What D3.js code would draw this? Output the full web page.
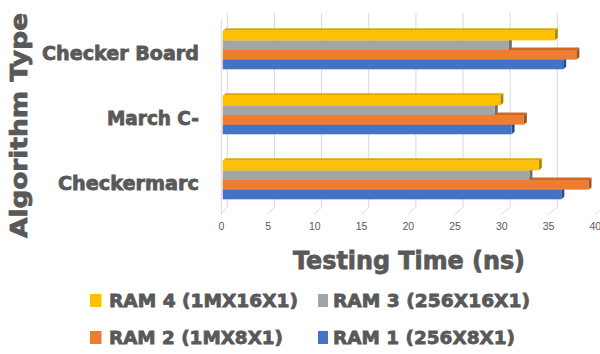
<!DOCTYPE html>
<html>
<head>
<meta charset="utf-8">
<script src="https://cdn.jsdelivr.net/npm/d3@7/dist/d3.min.js"></script>
<style>
  html, body { margin: 0; padding: 0; background: #fff; }
  svg { display: block; }
</style>
</head>
<body>
<svg id="chart" width="600" height="354"></svg>
<script>
// Algorithms, top to bottom
const categories = ["Checker Board", "March C-", "Checkermarc"];
// Series, top to bottom inside each cluster
const seriesNames = ["RAM 4 (1MX16X1)", "RAM 3 (256X16X1)", "RAM 2 (1MX8X1)", "RAM 1 (256X8X1)"];
// Testing time (ns) per algorithm, same order as categories
const ram4 = [35.4, 29.6, 33.7];
const ram3 = [30.5, 29.0, 32.7];
const ram2 = [37.7, 32.1, 39.0];
const ram1 = [36.3, 30.8, 36.1];
const tickValues = [0, 5, 10, 15, 20, 25, 30, 35, 40];

const seriesValues = [ram4, ram3, ram2, ram1];
const faceColors = ["#FFC000", "#A5A5A5", "#ED7D31", "#4472C4"];
const topColors  = ["#DDA800", "#8E8E8E", "#CF6824", "#3A62AB"];
const sideColors = ["#B08500", "#6E6E6E", "#A4521C", "#2C4C88"];
const textColor = "#595959";

const svg = d3.select("#chart");
svg.append("rect").attr("width", 600).attr("height", 354).attr("fill", "#fff");

// Three x scales: back wall, bars (mid depth), front floor edge
const xBack  = d3.scaleLinear().domain([0, 40]).range([227.3, 227.3 + 40 * 9.43]);
const xBar   = d3.scaleLinear().domain([0, 40]).range([222.7, 222.7 + 40 * 9.38]);
const xFront = d3.scaleLinear().domain([0, 40]).range([220.8, 220.8 + 40 * 9.35]);

const wallTop = 13, wallBottom = 207, floorFront = 214.5;

const yCat = d3.scaleBand().domain(categories).range([17.5, 212.5])
  .paddingInner(0.406).paddingOuter(0.203);
const ySer = d3.scaleBand().domain(seriesNames).range([0, yCat.bandwidth()]);

// Walls and floor grid
const grid = svg.append("g").attr("stroke", "#d9d9d9").attr("stroke-width", 1).attr("fill", "none");
grid.append("line")
  .attr("x1", xFront(0) + 0.5).attr("y1", 19)
  .attr("x2", xFront(0) + 0.5).attr("y2", floorFront);
tickValues.forEach(v => {
  grid.append("path").attr("d",
    `M${xBack(v)},${wallTop}L${xBack(v)},${wallBottom}L${xFront(v)},${floorFront}`);
});

// 3-D bars: draw bottom series first so the bar above hides its top face
const dx = 3, dy = 2.5;
const bars = svg.append("g");
categories.forEach((cat, ci) => {
  for (let si = seriesNames.length - 1; si >= 0; si--) {
    const v = seriesValues[si][ci];
    const y = yCat(cat) + ySer(seriesNames[si]);
    const h = ySer.bandwidth();
    const x0 = xBar(0), x1 = xBar(v);
    const g = bars.append("g");
    g.append("path")
      .attr("d", `M${x0},${y}L${x1},${y}L${x1 + dx},${y - dy}L${x0 + dx},${y - dy}Z`)
      .attr("fill", topColors[si]);
    g.append("path")
      .attr("d", `M${x1},${y}L${x1 + dx},${y - dy}L${x1 + dx},${y + h - dy}L${x1},${y + h}Z`)
      .attr("fill", sideColors[si]);
    g.append("rect")
      .attr("x", x0).attr("y", y)
      .attr("width", x1 - x0).attr("height", h)
      .attr("fill", faceColors[si]);
  }
});

// Bottom axis labels
const axis = d3.axisBottom(xFront).tickValues(tickValues).tickSize(0).tickPadding(0);
const axG = svg.append("g").attr("transform", "translate(0,223)").call(axis);
axG.select(".domain").remove();
axG.selectAll("text")
  .attr("fill", textColor)
  .attr("font-family", "'Liberation Sans', Arial, sans-serif")
  .attr("font-size", 10.5);

// Heavy label helper
function heavy(sel, size, len) {
  return sel.attr("font-family", "'DejaVu Sans', sans-serif")
    .attr("font-weight", "bold")
    .attr("font-size", size)
    .attr("fill", textColor)
    .attr("stroke", textColor)
    .attr("stroke-width", 0.8)
    .attr("textLength", len)
    .attr("lengthAdjust", "spacingAndGlyphs");
}

// Category labels
const catWidths = { "Checker Board": 157, "March C-": 92, "Checkermarc": 141 };
categories.forEach(cat => {
  heavy(svg.append("text"), 19, catWidths[cat])
    .attr("x", 199).attr("y", yCat(cat) + yCat.bandwidth() / 2 + 10)
    .attr("text-anchor", "end")
    .text(cat);
});

// Axis titles
heavy(svg.append("text"), 23, 225)
  .attr("transform", "translate(27,125.5) rotate(-90)")
  .attr("text-anchor", "middle")
  .text("Algorithm Type");

heavy(svg.append("text"), 24, 232)
  .attr("x", 409).attr("y", 268.5)
  .attr("text-anchor", "middle")
  .text("Testing Time (ns)");

// Legend, two rows
const legendPos = [
  { sx: 90, tx: 109, y: 294, w: 189 },
  { sx: 318, tx: 333, y: 294, w: 197 },
  { sx: 90, tx: 109, y: 331, w: 174 },
  { sx: 318, tx: 333, y: 331, w: 182 }
];
seriesNames.forEach((name, i) => {
  const p = legendPos[i];
  svg.append("rect")
    .attr("x", p.sx).attr("y", p.y)
    .attr("width", i % 2 === 0 ? 11.5 : 10).attr("height", 13)
    .attr("fill", faceColors[i]);
  heavy(svg.append("text"), 18, p.w)
    .attr("x", p.tx).attr("y", p.y + 13)
    .text(name);
});
</script>
</body>
</html>
